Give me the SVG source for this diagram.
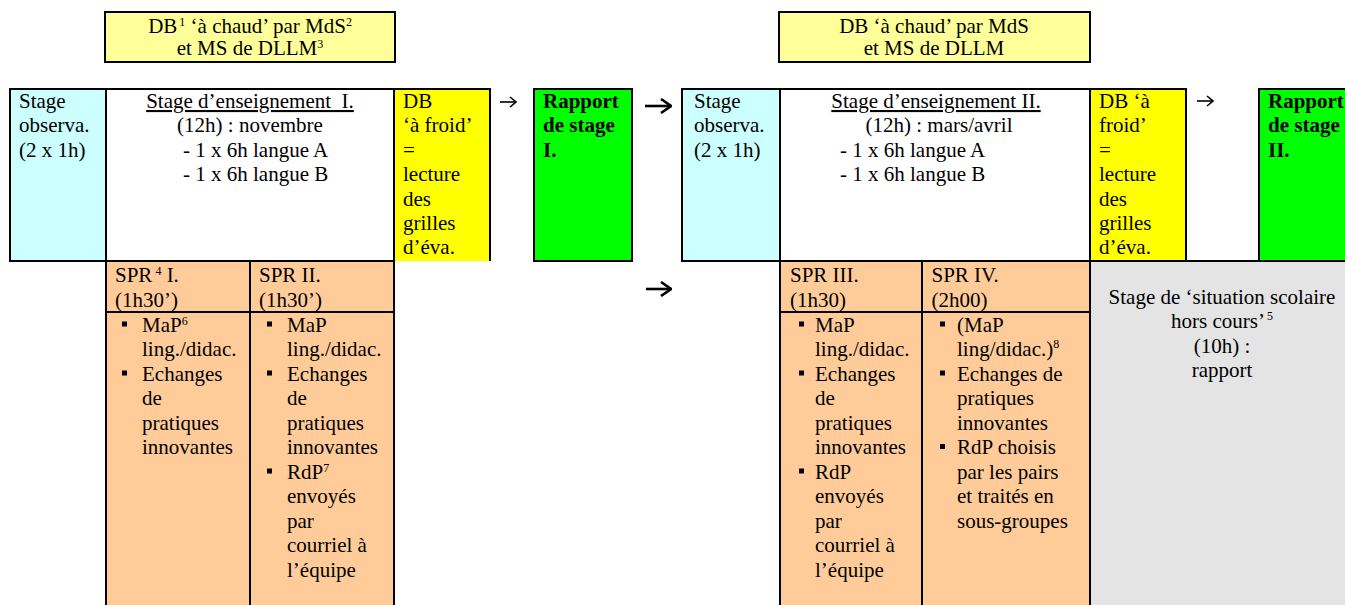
<svg xmlns="http://www.w3.org/2000/svg" width="1345" height="605" viewBox="0 0 1345 605">
<style>
text { font-family: "Liberation Serif", "Times New Roman", serif; font-size: 21px; fill: #000; }
.b { font-weight: bold; }
.m { text-anchor: middle; }
.sup { font-size: 12px; }
.bd { stroke: #000; stroke-width: 2; }
.ln { stroke: #000; stroke-width: 2; fill: none; }
.cy { fill: #CCFFFF; }
.wh { fill: #FFFFFF; }
.ye { fill: #FFFF00; }
.gr { fill: #00FF00; }
.ly { fill: #FFFF99; }
.or { fill: #FFCC99; }
.gy { fill: #E4E4E4; }
.arr { stroke: #000; fill: none; }
.as { stroke-width: 1.6; }
.ab { stroke-width: 2.6; }
</style>
<defs>
<rect id="blt" width="5" height="5" fill="#000"/>
<marker id="hs" viewBox="0 0 8 12" refX="7" refY="6" markerWidth="8" markerHeight="12" markerUnits="userSpaceOnUse" orient="auto">
<path d="M1,1 L7,6 L1,11" fill="none" stroke="#000" stroke-width="1.6"/>
</marker>
<marker id="hb" viewBox="0 0 12 16" refX="11" refY="8" markerWidth="12" markerHeight="16" markerUnits="userSpaceOnUse" orient="auto">
<path d="M1,1 L11,8 L1,15" fill="none" stroke="#000" stroke-width="2.6"/>
</marker>
</defs>

<g id="db-chaud-1">
<rect x="105" y="12" width="290" height="50" class="ly bd"/>
<text class="m" x="250" y="33">DB<tspan class="sup" dx="2" dy="-7">1</tspan><tspan dy="7"> ‘à chaud’ par MdS</tspan><tspan class="sup" dy="-7">2</tspan></text>
<text class="m" x="250" y="55">et MS de DLLM<tspan class="sup" dy="-7">3</tspan></text>
</g>

<g id="db-chaud-2">
<rect x="779" y="12" width="311" height="50" class="ly bd"/>
<text class="m" x="934" y="33">DB ‘à chaud’ par MdS</text>
<text class="m" x="934" y="55">et MS de DLLM</text>
</g>

<g id="observa-1">
<rect x="10" y="89" width="96" height="172" class="cy bd"/>
<text x="19" y="108">Stage</text>
<text x="19" y="132.4">observa.</text>
<text x="19" y="156.8">(2 x 1h)</text>
</g>

<g id="enseignement-1">
<rect x="106" y="89" width="288" height="172" class="wh bd"/>
<text class="m" x="250" y="108" text-decoration="underline">Stage d’enseignement&#160; I.</text>
<text class="m" x="250" y="132.4">(12h) : novembre</text>
<text x="183" y="156.8">- 1 x 6h langue A</text>
<text x="183" y="181.2">- 1 x 6h langue B</text>
</g>

<g id="db-froid-1">
<rect x="395" y="89" width="95" height="172" class="ye"/>
<path d="M394,89 H490 V261" class="ln"/>
<text x="403" y="108">DB</text>
<text x="403" y="132.4">‘à froid’</text>
<text x="403" y="156.8">=</text>
<text x="403" y="181.2">lecture</text>
<text x="403" y="205.6">des</text>
<text x="403" y="230">grilles</text>
<text x="403" y="254.4">d’éva.</text>
</g>

<g id="rapport-1">
<rect x="534" y="89" width="98" height="172" class="gr bd"/>
<text class="b" x="543" y="108">Rapport</text>
<text class="b" x="543" y="132.4">de stage</text>
<text class="b" x="543" y="156.8">I.</text>
</g>

<g id="observa-2">
<rect x="682" y="89" width="98" height="172" class="cy bd"/>
<text x="694" y="108">Stage</text>
<text x="694" y="132.4">observa.</text>
<text x="694" y="156.8">(2 x 1h)</text>
</g>

<g id="enseignement-2">
<rect x="780" y="89" width="310" height="172" class="wh bd"/>
<text class="m" x="936" y="108" text-decoration="underline">Stage d’enseignement II.</text>
<text class="m" x="939" y="132.4">(12h) : mars/avril</text>
<text x="840" y="156.8">- 1 x 6h langue A</text>
<text x="840" y="181.2">- 1 x 6h langue B</text>
</g>

<g id="db-froid-2">
<rect x="1090" y="89" width="96" height="172" class="ye bd"/>
<text x="1099" y="108">DB ‘à</text>
<text x="1099" y="132.4">froid’</text>
<text x="1099" y="156.8">=</text>
<text x="1099" y="181.2">lecture</text>
<text x="1099" y="205.6">des</text>
<text x="1099" y="230">grilles</text>
<text x="1099" y="254.4">d’éva.</text>
</g>

<g id="rapport-2">
<rect x="1259" y="89" width="92" height="172" class="gr bd"/>
<text class="b" x="1268" y="108">Rapport</text>
<text class="b" x="1268" y="132.4">de stage</text>
<text class="b" x="1268" y="156.8">II.</text>
</g>

<g id="spr-1">
<rect x="106" y="261" width="144" height="350" class="or bd"/>
<path d="M106,312 H250" class="ln"/>
<text x="115" y="282">SPR<tspan class="sup" dx="3" dy="-7">4</tspan><tspan dy="7"> I.</tspan></text>
<text x="115" y="306.5">(1h30’)</text>
<use href="#blt" x="122" y="321.5"/>
<use href="#blt" x="122" y="370.5"/>
<text x="142" y="331.5">MaP<tspan class="sup" dy="-7">6</tspan></text>
<text x="142" y="356">ling./didac.</text>
<text x="142" y="380.5">Echanges</text>
<text x="142" y="405">de</text>
<text x="142" y="429.5">pratiques</text>
<text x="142" y="454">innovantes</text>
</g>

<g id="spr-2">
<rect x="250" y="261" width="144" height="350" class="or bd"/>
<path d="M250,312 H394" class="ln"/>
<text x="259" y="282">SPR II.</text>
<text x="259" y="306.5">(1h30’)</text>
<use href="#blt" x="267" y="321.5"/>
<use href="#blt" x="267" y="370.5"/>
<use href="#blt" x="267" y="468.5"/>
<text x="287" y="331.5">MaP</text>
<text x="287" y="356">ling./didac.</text>
<text x="287" y="380.5">Echanges</text>
<text x="287" y="405">de</text>
<text x="287" y="429.5">pratiques</text>
<text x="287" y="454">innovantes</text>
<text x="287" y="478.5">RdP<tspan class="sup" dy="-7">7</tspan></text>
<text x="287" y="503">envoyés</text>
<text x="287" y="527.5">par</text>
<text x="287" y="552">courriel à</text>
<text x="287" y="576.5">l’équipe</text>
</g>

<g id="spr-3">
<rect x="780" y="261" width="142" height="350" class="or bd"/>
<path d="M780,312 H922" class="ln"/>
<text x="790" y="282">SPR III.</text>
<text x="790" y="306.5">(1h30)</text>
<use href="#blt" x="799" y="321.5"/>
<use href="#blt" x="799" y="370.5"/>
<use href="#blt" x="799" y="468.5"/>
<text x="815" y="331.5">MaP</text>
<text x="815" y="356">ling./didac.</text>
<text x="815" y="380.5">Echanges</text>
<text x="815" y="405">de</text>
<text x="815" y="429.5">pratiques</text>
<text x="815" y="454">innovantes</text>
<text x="815" y="478.5">RdP</text>
<text x="815" y="503">envoyés</text>
<text x="815" y="527.5">par</text>
<text x="815" y="552">courriel à</text>
<text x="815" y="576.5">l’équipe</text>
</g>

<g id="spr-4">
<rect x="922" y="261" width="168" height="350" class="or bd"/>
<path d="M922,312 H1090" class="ln"/>
<text x="931.5" y="282">SPR IV.</text>
<text x="931.5" y="306.5">(2h00)</text>
<use href="#blt" x="940" y="321.5"/>
<use href="#blt" x="940" y="370.5"/>
<use href="#blt" x="940" y="444"/>
<text x="957" y="331.5">(MaP</text>
<text x="957" y="356">ling/didac.)<tspan class="sup" dy="-8">8</tspan></text>
<text x="957" y="380.5">Echanges de</text>
<text x="957" y="405">pratiques</text>
<text x="957" y="429.5">innovantes</text>
<text x="957" y="454">RdP choisis</text>
<text x="957" y="478.5">par les pairs</text>
<text x="957" y="503">et traités en</text>
<text x="957" y="527.5">sous-groupes</text>
</g>

<g id="hors-cours">
<rect x="1090" y="261" width="260" height="350" class="gy bd"/>
<text class="m" x="1222" y="303.5">Stage de ‘situation scolaire</text>
<text class="m" x="1222" y="328">hors cours’<tspan class="sup" dx="2" dy="-8">5</tspan></text>
<text class="m" x="1222" y="352.5">(10h) :</text>
<text class="m" x="1222" y="377">rapport</text>
</g>

<g id="connectors">
<path d="M500,102 H516" class="arr as" marker-end="url(#hs)"/>
<path d="M645,106 H671" class="arr ab" marker-end="url(#hb)"/>
<path d="M646,289 H671" class="arr ab" marker-end="url(#hb)"/>
<path d="M1197,101 H1213" class="arr as" marker-end="url(#hs)"/>
</g>
</svg>
